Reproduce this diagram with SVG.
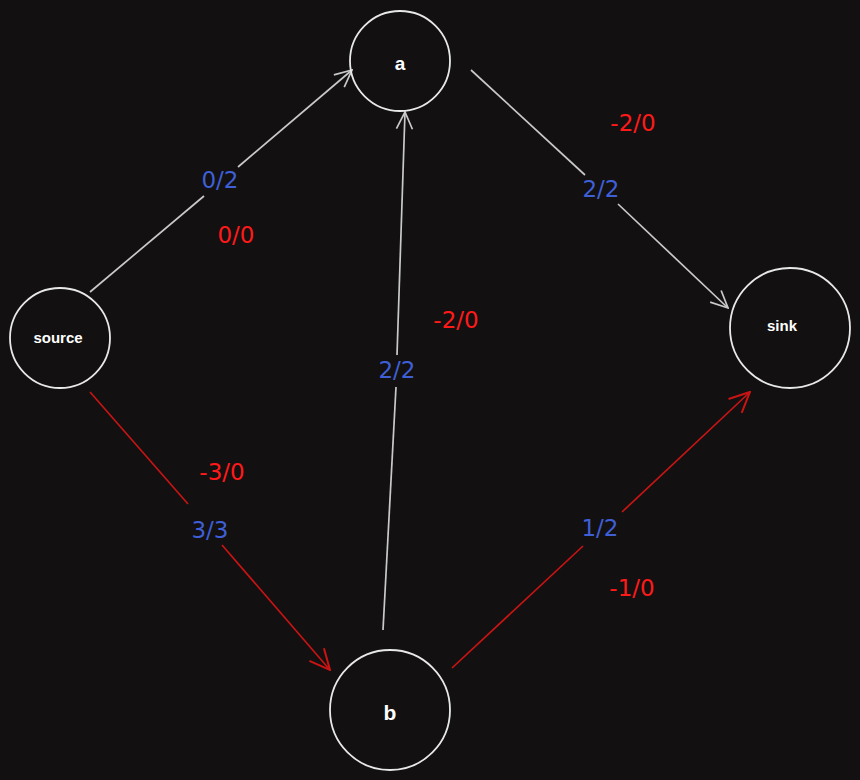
<svg xmlns="http://www.w3.org/2000/svg" width="860" height="780" viewBox="0 0 860 780">
<style>
.node{fill:none;stroke:#e8e8e8;stroke-width:1.8}
.nl{fill:#ffffff;font-family:"Liberation Sans",sans-serif;font-weight:bold;text-anchor:middle;dominant-baseline:central}
.w{stroke:#c9c9c9;stroke-width:1.7;fill:none}
.r{stroke:#c81414;stroke-width:1.7;fill:none}
.blue{fill:#3f5fd6;font-family:"DejaVu Sans",sans-serif;font-size:23px;text-anchor:middle;dominant-baseline:central}
.red{fill:#ff1a1a;font-family:"DejaVu Sans",sans-serif;font-size:23px;text-anchor:middle;dominant-baseline:central}
</style>
<defs>
<marker id="aw" viewBox="0 0 20 20" refX="19" refY="10" markerWidth="20" markerHeight="20" markerUnits="userSpaceOnUse" orient="auto">
<path d="M2,2 L19,10 L2,18" fill="none" stroke="#c9c9c9" stroke-width="1.7"/>
</marker>
<marker id="ar" viewBox="0 0 20 20" refX="19" refY="10" markerWidth="24" markerHeight="24" markerUnits="userSpaceOnUse" orient="auto">
<path d="M2,2 L19,10 L2,18" fill="none" stroke="#c81414" stroke-width="1.7"/>
</marker>
</defs>
<rect width="860" height="780" fill="#121010"/>
<g id="connectors">
<path class="w" d="M90,292 L204,196"/>
<path class="w" d="M238,167 L352,70" marker-end="url(#aw)"/>
<path class="w" d="M471,70 L585,175"/>
<path class="w" d="M618,204 L728,308" marker-end="url(#aw)"/>
<path class="w" d="M383,630 L396,387"/>
<path class="w" d="M397,355 L405,112" marker-end="url(#aw)"/>
<path class="r" d="M90,392 L188,504"/>
<path class="r" d="M222,545 L330,670" marker-end="url(#ar)"/>
<path class="r" d="M452,668 L583,546"/>
<path class="r" d="M622,512 L750,392" marker-end="url(#ar)"/>
</g>
<g id="node-a"><circle class="node" cx="400" cy="61" r="50"/><text class="nl" x="400" y="63" font-size="19">a</text></g>
<g id="node-source"><circle class="node" cx="60" cy="338" r="50"/><text class="nl" x="58" y="337" font-size="15">source</text></g>
<g id="node-sink"><circle class="node" cx="790" cy="328" r="60"/><text class="nl" x="782" y="325" font-size="15">sink</text></g>
<g id="node-b"><circle class="node" cx="390" cy="710" r="60"/><text class="nl" x="390" y="712" font-size="21">b</text></g>
<g id="labels">
<text class="blue" x="220" y="180">0/2</text>
<text class="red" x="236" y="235">0/0</text>
<text class="blue" x="601" y="189">2/2</text>
<text class="red" x="633" y="123">-2/0</text>
<text class="blue" x="397" y="370">2/2</text>
<text class="red" x="456" y="320">-2/0</text>
<text class="blue" x="210" y="530">3/3</text>
<text class="red" x="222" y="472">-3/0</text>
<text class="blue" x="600" y="528">1/2</text>
<text class="red" x="632" y="588">-1/0</text>
</g>
</svg>
